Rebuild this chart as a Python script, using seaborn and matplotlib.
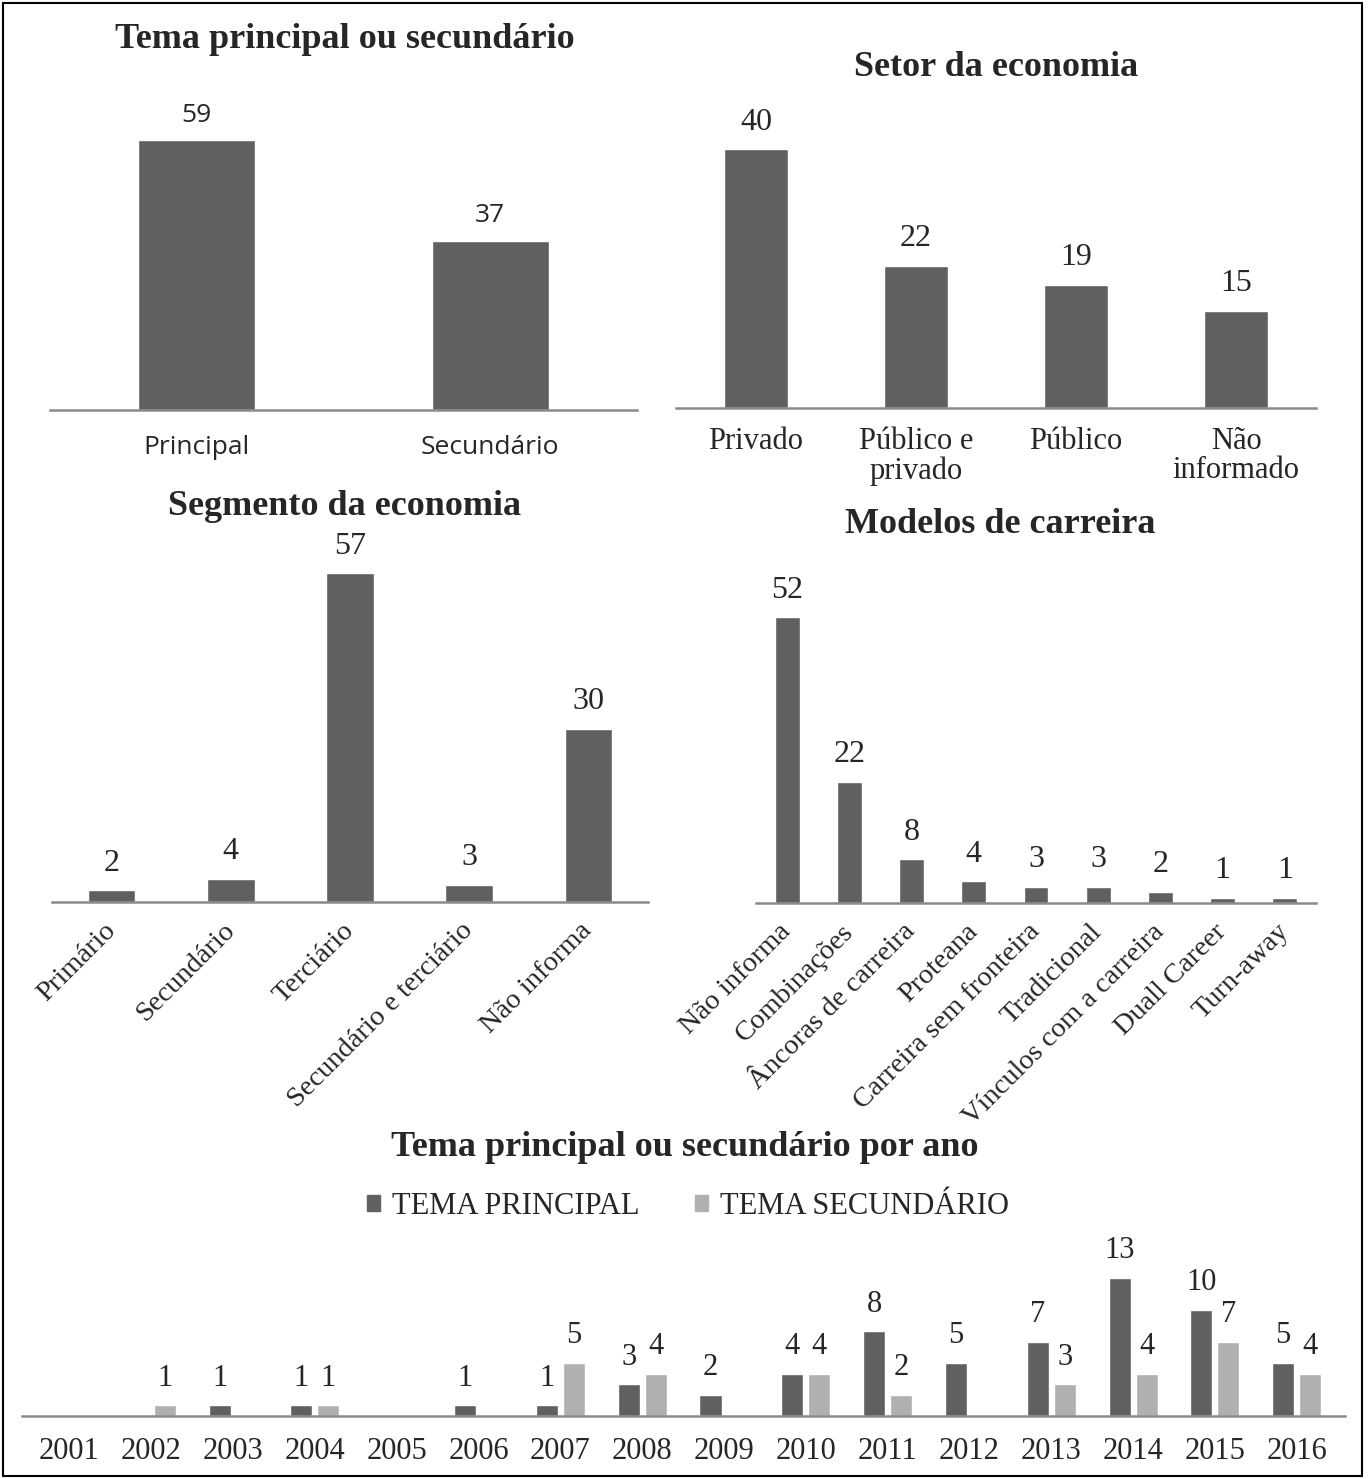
import numpy as np
import pandas as pd
import seaborn as sns
import matplotlib.pyplot as plt
from matplotlib.patches import Rectangle, Patch

# data
tema_cats = ['Principal', 'Secundário']
tema_vals = [59, 37]

setor_cats = ['Privado', 'Público e\nprivado', 'Público', 'Não\ninformado']
setor_vals = [40, 22, 19, 15]

segmento_cats = ['Primário', 'Secundário', 'Terciário', 'Secundário e terciário', 'Não informa']
segmento_vals = [2, 4, 57, 3, 30]

modelos_cats = ['Não informa', 'Combinações', 'Âncoras de carreira', 'Proteana',
                'Carreira sem fronteira', 'Tradicional', 'Vínculos com a carreira',
                'Duall Career', 'Turn-away']
modelos_vals = [52, 22, 8, 4, 3, 3, 2, 1, 1]

anos = ['2001', '2002', '2003', '2004', '2005', '2006', '2007', '2008',
        '2009', '2010', '2011', '2012', '2013', '2014', '2015', '2016']
principal_ano = [0, 0, 1, 1, 0, 1, 1, 3, 2, 4, 8, 5, 7, 13, 10, 5]
secundario_ano = [0, 1, 0, 1, 0, 0, 5, 4, 0, 4, 2, 0, 3, 4, 7, 4]

DARK = '#606060'
LIGHT = '#b0b0b0'
AXIS = '#8a8a8a'
SERIF = ['Liberation Serif', 'DejaVu Serif']
SANS = ['Open Sans', 'DejaVu Sans']

sns.set_theme(style='white')
plt.rcParams['font.family'] = SERIF

W, H = 1370, 1479
fig = plt.figure(figsize=(W / 100, H / 100), dpi=100)


def axes_px(x0, x1, base, bar_top, vmax):
    # place axes so that vmax reaches bar_top pixel row; ylim headroom 10 %
    top = base - (base - bar_top) * 1.1
    ax = fig.add_axes([x0 / W, 1 - base / H, (x1 - x0) / W, (base - top) / H])
    ax.set_ylim(0, vmax * 1.1)
    return ax


def style_axes(ax, n, pad, font, size, rot=0):
    ax.set_xlim(-0.5, n - 0.5)
    for s in ['top', 'left', 'right']:
        ax.spines[s].set_visible(False)
    ax.spines['bottom'].set_color(AXIS)
    ax.spines['bottom'].set_linewidth(1.8)
    ax.set_yticks([])
    ax.set_xlabel('')
    ax.set_ylabel('')
    ax.tick_params(axis='x', length=0, pad=pad)
    for lab in ax.get_xticklabels():
        lab.set_family(font)
        lab.set_fontsize(size)
        if rot:
            lab.set_rotation(rot)
            lab.set_ha('right')
            lab.set_va('center')
            lab.set_rotation_mode('anchor')


def simple_bars(ax, cats, vals, font, size, lab_size, pad, rot=0):
    sns.barplot(x=cats, y=vals, color=DARK, width=0.4, saturation=1, ax=ax)
    style_axes(ax, len(cats), pad, font, size, rot)
    for c in ax.containers:
        ax.bar_label(c, padding=9, fontsize=lab_size, family=font)


# top left
ax1 = axes_px(50, 637, 410, 140, max(tema_vals))
simple_bars(ax1, tema_cats, tema_vals, SANS, 19, 19, 18)
fig.text(345 / W, 1 - 40 / H, 'Tema principal ou secundário', ha='center', va='center',
         fontsize=26, fontweight='bold')

# top right
ax2 = axes_px(676, 1316, 408, 149, max(setor_vals))
simple_bars(ax2, setor_cats, setor_vals, SERIF, 22, 23, 14)
for lab in ax2.get_xticklabels():
    lab.set_linespacing(1.0)
fig.text(996 / W, 1 - 67 / H, 'Setor da economia', ha='center', va='center',
         fontsize=26, fontweight='bold')

# middle left
ax3 = axes_px(52, 648, 902, 573, max(segmento_vals))
simple_bars(ax3, segmento_cats, segmento_vals, SERIF, 20.5, 23, 18, rot=45)
fig.text(345 / W, 1 - 506 / H, 'Segmento da economia', ha='center', va='center',
         fontsize=26, fontweight='bold')

# middle right
ax4 = axes_px(756, 1316, 903, 617, max(modelos_vals))
simple_bars(ax4, modelos_cats, modelos_vals, SERIF, 20.5, 23, 18, rot=45)
fig.text(1000 / W, 1 - 524 / H, 'Modelos de carreira', ha='center', va='center',
         fontsize=26, fontweight='bold')

# bottom: per year
df = pd.DataFrame({
    'ano': anos * 2,
    'n': principal_ano + secundario_ano,
    'tema': ['TEMA PRINCIPAL'] * len(anos) + ['TEMA SECUNDÁRIO'] * len(anos),
})
ax5 = axes_px(22, 1345, 1416, 1278, max(principal_ano))
sns.barplot(data=df, x='ano', y='n', hue='tema', palette=[DARK, LIGHT],
            width=0.66, gap=0.18, saturation=1, ax=ax5, legend=False)
style_axes(ax5, len(anos), 15, SERIF, 22)
ax5.set_xlim(-0.58, len(anos) - 0.41)
for c in ax5.containers:
    labels = [str(int(v)) if v > 0 else '' for v in c.datavalues]
    ax5.bar_label(c, labels=labels, padding=9, fontsize=22)
fig.text(685 / W, 1 - 1147 / H, 'Tema principal ou secundário por ano', ha='center',
         va='center', fontsize=26, fontweight='bold')
handles = [Patch(color=DARK), Patch(color=LIGHT)]
fig.legend(handles, ['TEMA PRINCIPAL', 'TEMA SECUNDÁRIO'], loc='center',
           bbox_to_anchor=(688 / W, 1 - 1206 / H), ncol=2, frameon=False,
           fontsize=22, handlelength=0.42, handleheight=0.42, handletextpad=0.4,
           columnspacing=1.8)

fig.add_artist(Rectangle((3 / W, 3 / H), 1359 / W, 1473 / H, transform=fig.transFigure,
                         fill=False, ec='black', lw=1.5))

fig.savefig('out.png', dpi=100)
